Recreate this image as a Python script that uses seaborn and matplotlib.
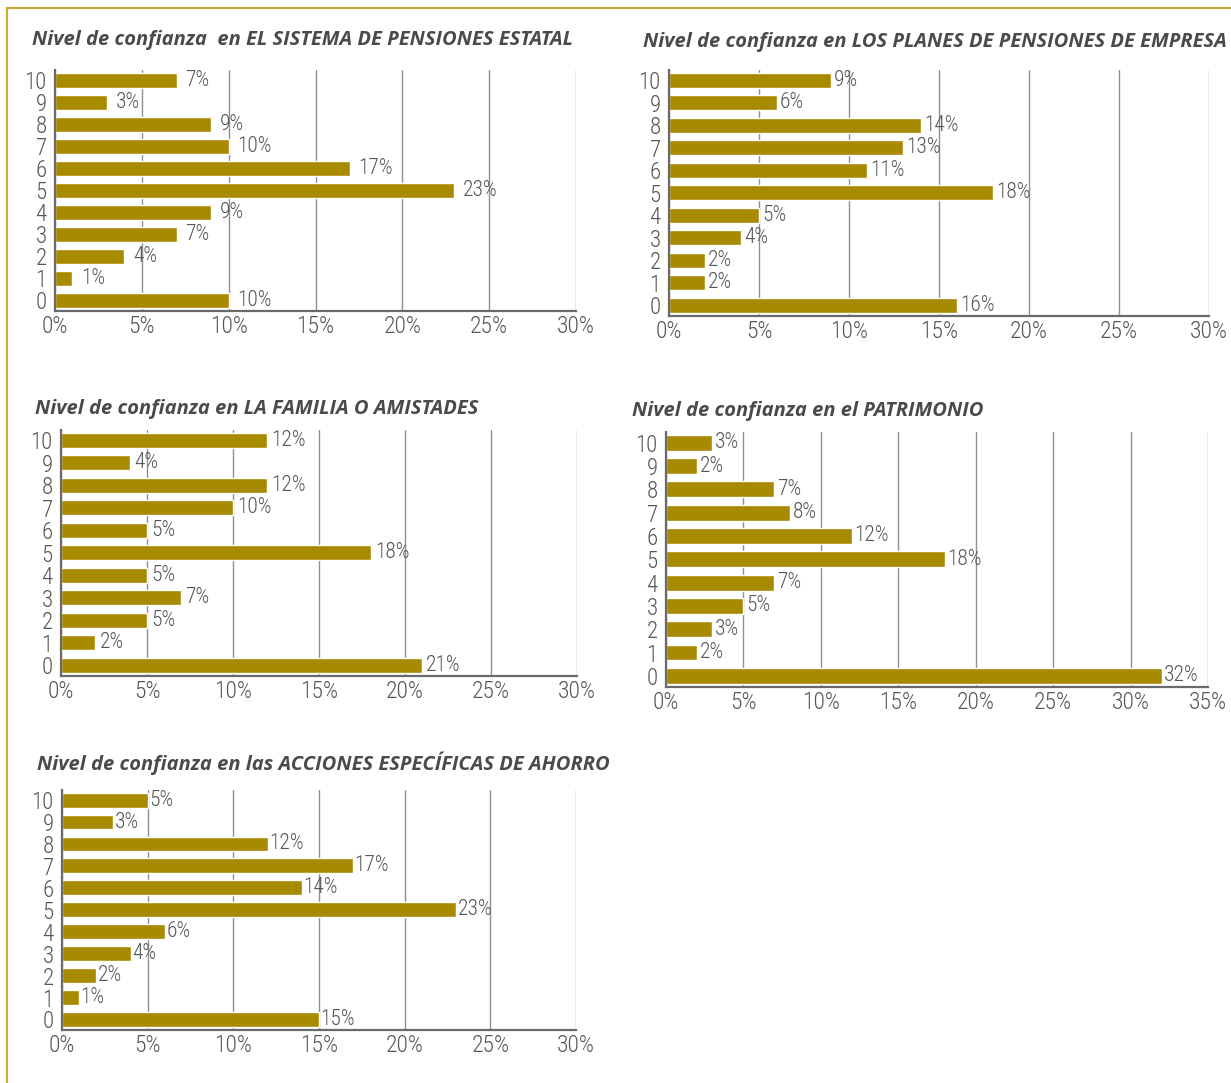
import matplotlib
matplotlib.use("Agg")
import matplotlib.pyplot as plt
from matplotlib import font_manager
from matplotlib.lines import Line2D
import seaborn as sns
import pandas as pd

# Confidence scores 0..10 and the share of respondents (%) for each score
scores = [str(s) for s in range(11)]
pensiones_estatal = [10, 1, 4, 7, 9, 23, 17, 10, 9, 3, 7]
planes_empresa = [16, 2, 2, 4, 5, 18, 11, 13, 14, 6, 9]
familia_amistades = [21, 2, 5, 7, 5, 18, 5, 10, 12, 4, 12]
patrimonio = [32, 2, 3, 5, 7, 18, 12, 8, 7, 2, 3]
acciones_ahorro = [15, 1, 2, 4, 6, 23, 14, 17, 12, 3, 5]

titles = [
    "Nivel de confianza  en EL SISTEMA DE PENSIONES ESTATAL",
    "Nivel de confianza en LOS PLANES DE PENSIONES DE EMPRESA",
    "Nivel de confianza en LA FAMILIA O AMISTADES",
    "Nivel de confianza en el PATRIMONIO",
    "Nivel de confianza en las ACCIONES ESPECÍFICAS DE AHORRO",
]
x_ticks_30 = [0, 5, 10, 15, 20, 25, 30]
x_ticks_35 = [0, 5, 10, 15, 20, 25, 30, 35]

BAR = "#A88A00"
TEXT = "#555555"
TITLE = "#4a4a4c"
GRID = "#8f8f8f"
SPINE = "#6a6a6a"
FRAME = "#C8AC35"

sns.set_theme(style="white")

available = {f.name for f in font_manager.fontManager.ttflist}
narrow = next((f for f in ["Roboto Condensed", "Liberation Sans Narrow", "DejaVu Sans"]
               if f in available), "DejaVu Sans")
title_font = next((f for f in ["Open Sans", "Lato", "Noto Sans", "DejaVu Sans"]
                   if f in available), "DejaVu Sans")
plt.rcParams["font.family"] = [narrow, "DejaVu Sans"]
plt.rcParams["font.weight"] = "light"

W, H = 1231, 1083
fig = plt.figure(figsize=(W / 100, H / 100), dpi=100)
fig.patch.set_facecolor("white")


def px_axes(left, right, top, bottom):
    return fig.add_axes([left / W, 1 - bottom / H, (right - left) / W, (bottom - top) / H])


# (values, title, axes box in px, title position in px, x ticks, label padding)
panels = [
    (pensiones_estatal, titles[0], (55, 576, 70, 311), (32, 40), x_ticks_30, 6),
    (planes_empresa, titles[1], (669, 1209, 70, 316), (643, 42), x_ticks_30, 2),
    (familia_amistades, titles[2], (61, 577, 430, 676), (35, 409), x_ticks_30, 3),
    (patrimonio, titles[3], (666, 1208, 432, 687), (632, 411), x_ticks_35, 2),
    (acciones_ahorro, titles[4], (62, 576, 790, 1030), (37, 763), x_ticks_30, 1),
]

order = scores[::-1]
for values, title, box, tpos, xticks, pad in panels:
    ax = px_axes(*box)
    df = pd.DataFrame({"puntuacion": scores, "porcentaje": values})
    sns.barplot(data=df, y="puntuacion", x="porcentaje", order=order,
                color=BAR, saturation=1, width=0.68, orient="h", ax=ax, zorder=3)
    for c in ax.containers:
        ax.bar_label(c, labels=[f"{int(v)}%" for v in c.datavalues], padding=pad,
                     fontsize=15.5, color=TEXT, zorder=4, fontweight="light")
    ax.set_xlim(0, xticks[-1])
    ax.set_ylim(10.48, -0.46)
    ax.set_xticks(xticks)
    ax.set_xticklabels([f"{t}%" for t in xticks])
    ax.set_xlabel("")
    ax.set_ylabel("")
    ax.grid(axis="x", color=GRID, linewidth=1.0, zorder=0)
    ax.grid(axis="y", visible=False)
    for s in ["top", "right"]:
        ax.spines[s].set_visible(False)
    for s in ["left", "bottom"]:
        ax.spines[s].set_color(SPINE)
        ax.spines[s].set_linewidth(1.6)
        ax.spines[s].set_zorder(5)
    ax.tick_params(axis="y", length=0, pad=6, labelsize=16.5, labelcolor=TEXT)
    ax.tick_params(axis="x", length=0, pad=3, labelsize=17, labelcolor=TEXT)
    for lbl in ax.get_xticklabels() + ax.get_yticklabels():
        lbl.set_fontweight("light")
    ax.set_facecolor("none")
    fig.text(tpos[0] / W, 1 - tpos[1] / H, title, ha="left", va="center",
             fontsize=14.5, fontstyle="italic", fontweight="bold", color=TITLE,
             family=[title_font, "DejaVu Sans"])

# Thin golden frame along the top and left edges
fig.add_artist(Line2D([7 / W, 1], [1 - 8 / H, 1 - 8 / H], transform=fig.transFigure,
                      color=FRAME, linewidth=1.6))
fig.add_artist(Line2D([7 / W, 7 / W], [0, 1 - 8 / H], transform=fig.transFigure,
                      color=FRAME, linewidth=1.6))

fig.savefig("out.png", dpi=100, facecolor="white")
